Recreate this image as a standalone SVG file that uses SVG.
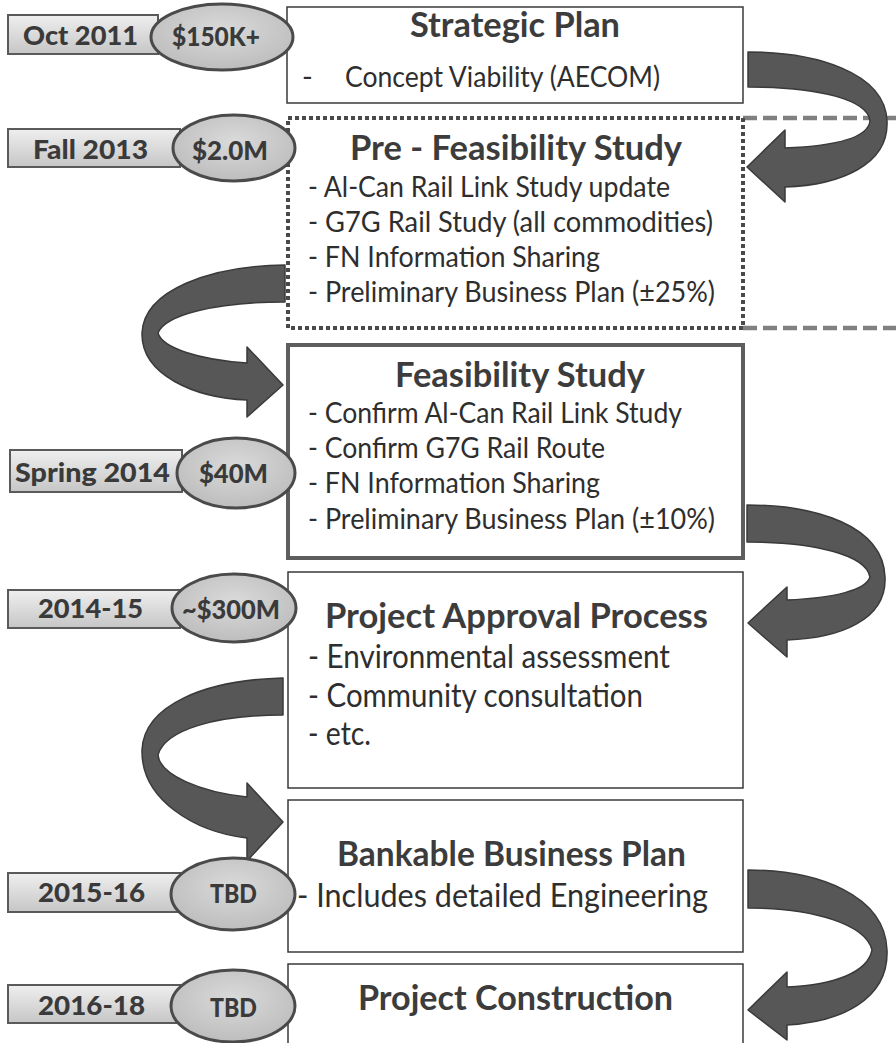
<svg xmlns="http://www.w3.org/2000/svg" width="896" height="1043" viewBox="0 0 896 1043">
<defs>
<linearGradient id="lg" x1="0" y1="0" x2="0" y2="1">
<stop offset="0" stop-color="#efefef"/><stop offset="1" stop-color="#c6c6c6"/>
</linearGradient>
<radialGradient id="eg" cx="0.5" cy="0.4" r="0.6">
<stop offset="0" stop-color="#dadada"/><stop offset="1" stop-color="#bdbdbd"/>
</radialGradient>
<style>
.box{fill:#fff;stroke:#3a3a3a;stroke-width:1.5}
.lab{fill:url(#lg);stroke:#5a5a5a;stroke-width:2}
.ell{fill:url(#eg);stroke:#4a4a4a;stroke-width:3}
.lt{font-family:Lato,"Open Sans",sans-serif;font-weight:900;font-size:26px;fill:#3a3a3a}
.ttl{font-family:Lato,"Open Sans",sans-serif;font-weight:bold;font-size:34px;fill:#3c3c3c}
.bd{font-family:Lato,"Open Sans",sans-serif;font-size:29px;fill:#2e2e2e}
.bd2{font-family:Lato,"Open Sans",sans-serif;font-size:32px;fill:#2e2e2e}
.arr{fill:#575757;stroke:#3a3a3a;stroke-width:1.5;stroke-linejoin:round}
</style>
</defs>
<rect width="896" height="1043" fill="#fff"/>

<g id="connectors">
<line x1="743" y1="118" x2="896" y2="118" stroke="#808080" stroke-width="4.5" stroke-dasharray="14 6"/>
<line x1="743" y1="328" x2="896" y2="328" stroke="#808080" stroke-width="4.5" stroke-dasharray="14 6"/>
<path class="arr" d="M748,52 C815,52 885,72 887,121 C889,165 840,185 785,187 L785,202 L747,167 L785,130 L785,148 C835,146 868,138 870,121 C868,100 820,87 748,87 Z"/>
<path class="arr" d="M285,265 C210,266 144,290 142,333 C141,375 195,398 247,400 L247,417 L283,385 L247,347 L247,363 C200,360 162,348 158,333 C165,315 215,302 285,302 Z"/>
<path class="arr" d="M747,505 C815,505 883,525 885,577 C887,620 840,638 787,640 L787,657 L748,623 L787,587 L787,600 C835,598 866,590 870,577 C866,555 815,542 747,542 Z"/>
<path class="arr" d="M283,678 C205,680 144,705 142,750 C141,800 195,832 247,838 L247,861 L283,822 L247,783 L247,797 C200,792 160,775 158,755 C165,730 215,715 283,715 Z"/>
<path class="arr" d="M748,870 C818,870 885,895 887,950 C889,1000 840,1022 787,1025 L787,1040 L748,1010 L787,972 L787,987 C835,985 868,972 872,950 C866,925 815,908 748,908 Z"/>
</g>

<g id="strategic-plan">
<rect class="box" x="287" y="7" width="456" height="96"/>
<text class="ttl" x="410" y="37" textLength="210" lengthAdjust="spacingAndGlyphs">Strategic Plan</text>
<text class="bd" x="302" y="87">-</text>
<text class="bd" x="345" y="87" textLength="315" lengthAdjust="spacingAndGlyphs">Concept Viability (AECOM)</text>
</g>

<g id="pre-feasibility">
<rect x="288" y="118" width="455" height="210" fill="#fff" stroke="#4a4a4a" stroke-width="4" stroke-dasharray="4 3"/>
<text class="ttl" x="350" y="160" textLength="332" lengthAdjust="spacingAndGlyphs">Pre - Feasibility Study</text>
<text class="bd" x="308" y="197" textLength="362" lengthAdjust="spacingAndGlyphs">- Al-Can Rail Link Study update</text>
<text class="bd" x="308" y="232" textLength="405" lengthAdjust="spacingAndGlyphs">- G7G Rail Study (all commodities)</text>
<text class="bd" x="308" y="267" textLength="292" lengthAdjust="spacingAndGlyphs">- FN Information Sharing</text>
<text class="bd" x="308" y="302" textLength="407" lengthAdjust="spacingAndGlyphs">- Preliminary Business Plan (±25%)</text>
</g>

<g id="feasibility">
<rect x="288" y="345" width="455" height="213" fill="#fff" stroke="#5e5e5e" stroke-width="4"/>
<text class="ttl" x="395" y="387" textLength="250" lengthAdjust="spacingAndGlyphs">Feasibility Study</text>
<text class="bd" x="308" y="423" textLength="374" lengthAdjust="spacingAndGlyphs">- Confirm Al-Can Rail Link Study</text>
<text class="bd" x="308" y="458" textLength="297" lengthAdjust="spacingAndGlyphs">- Confirm G7G Rail Route</text>
<text class="bd" x="308" y="493" textLength="292" lengthAdjust="spacingAndGlyphs">- FN Information Sharing</text>
<text class="bd" x="308" y="529" textLength="407" lengthAdjust="spacingAndGlyphs">- Preliminary Business Plan (±10%)</text>
</g>

<g id="project-approval">
<rect class="box" x="288" y="572" width="455" height="216"/>
<text class="ttl" x="325" y="628" textLength="383" lengthAdjust="spacingAndGlyphs">Project Approval Process</text>
<text class="bd2" x="308" y="668" textLength="362" lengthAdjust="spacingAndGlyphs">- Environmental assessment</text>
<text class="bd2" x="308" y="707" textLength="335" lengthAdjust="spacingAndGlyphs">- Community consultation</text>
<text class="bd2" x="308" y="745" textLength="63" lengthAdjust="spacingAndGlyphs">- etc.</text>
</g>

<g id="bankable-business-plan">
<rect class="box" x="288" y="800" width="455" height="152"/>
<text class="ttl" x="337" y="866" textLength="349" lengthAdjust="spacingAndGlyphs">Bankable Business Plan</text>
<text class="bd2" x="297" y="907" textLength="411" lengthAdjust="spacingAndGlyphs">- Includes detailed Engineering</text>
</g>

<g id="project-construction">
<rect class="box" x="288" y="964" width="455" height="90"/>
<text class="ttl" x="358" y="1010" textLength="315" lengthAdjust="spacingAndGlyphs">Project Construction</text>
</g>

<g id="label-oct-2011">
<rect class="lab" x="8" y="15" width="150" height="39"/>
<ellipse class="ell" cx="222" cy="37" rx="71" ry="33"/>
<text class="lt" x="23" y="45" textLength="115" lengthAdjust="spacingAndGlyphs">Oct 2011</text>
<text class="lt" x="172" y="46" textLength="88" lengthAdjust="spacingAndGlyphs">$150K+</text>
</g>

<g id="label-fall-2013">
<rect class="lab" x="8" y="129" width="172" height="38"/>
<ellipse class="ell" cx="234" cy="148" rx="61" ry="33"/>
<text class="lt" x="33" y="159" textLength="115" lengthAdjust="spacingAndGlyphs">Fall 2013</text>
<text class="lt" x="192" y="160" textLength="76" lengthAdjust="spacingAndGlyphs">$2.0M</text>
</g>

<g id="label-spring-2014">
<rect class="lab" x="10" y="450" width="172" height="42"/>
<ellipse class="ell" cx="236" cy="473" rx="59" ry="35"/>
<text class="lt" x="15" y="482" textLength="155" lengthAdjust="spacingAndGlyphs">Spring 2014</text>
<text class="lt" x="199" y="483" textLength="69" lengthAdjust="spacingAndGlyphs">$40M</text>
</g>

<g id="label-2014-15">
<rect class="lab" x="8" y="590" width="172" height="38"/>
<ellipse class="ell" cx="234" cy="608" rx="62" ry="34"/>
<text class="lt" x="38" y="618" textLength="105" lengthAdjust="spacingAndGlyphs">2014-15</text>
<text class="lt" x="182" y="619" textLength="98" lengthAdjust="spacingAndGlyphs">~$300M</text>
</g>

<g id="label-2015-16">
<rect class="lab" x="8" y="873" width="172" height="39"/>
<ellipse class="ell" cx="233" cy="894" rx="62" ry="36"/>
<text class="lt" x="38" y="902" textLength="107" lengthAdjust="spacingAndGlyphs">2015-16</text>
<text class="lt" x="210" y="903" textLength="47" lengthAdjust="spacingAndGlyphs">TBD</text>
</g>

<g id="label-2016-18">
<rect class="lab" x="8" y="985" width="172" height="38"/>
<ellipse class="ell" cx="233" cy="1006" rx="62" ry="36"/>
<text class="lt" x="38" y="1015" textLength="107" lengthAdjust="spacingAndGlyphs">2016-18</text>
<text class="lt" x="210" y="1017" textLength="47" lengthAdjust="spacingAndGlyphs">TBD</text>
</g>
</svg>
